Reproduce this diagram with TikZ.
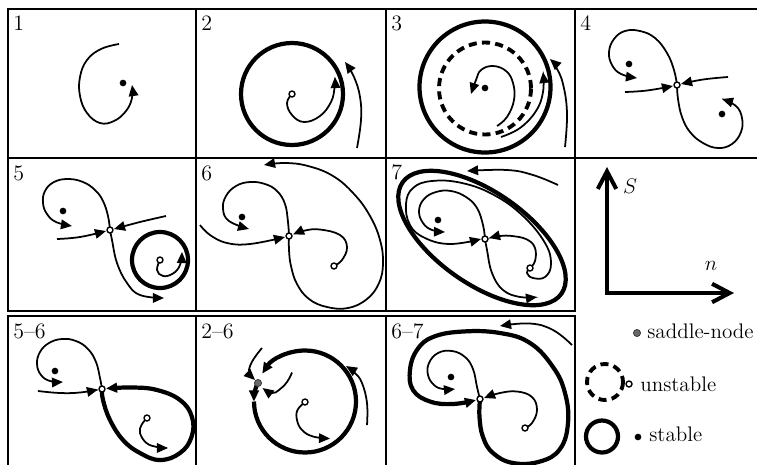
\documentclass[tikz,border=0pt]{standalone}
\usepackage{tikz}
\usetikzlibrary{arrows.meta}
\definecolor{snGray}{RGB}{105,105,105}

\begin{document}
\begin{tikzpicture}[
  x=0.02cm, y=-0.02cm,
  frame/.style={line width=1.3pt},
  arr/.style={-{Triangle[length=6.3pt,width=5.4pt]}},
  traj/.style={line width=1pt, arr},
  orbit/.style={line width=2.4pt},
  ghost/.style={line width=2.2pt, dash pattern=on 4.6pt off 3pt},
  stab/.style={circle, fill=black, inner sep=0pt, minimum size=3.8pt},
  unst/.style={circle, draw, fill=white, line width=0.8pt, inner sep=0pt, minimum size=3.4pt},
  snode/.style={circle, draw=snGray!60!black, fill=snGray, line width=0.5pt, inner sep=0pt, minimum size=4pt},
  lbl/.style={anchor=base west, inner sep=0pt, font=\fontsize{12.5}{14}\selectfont},
  legtxt/.style={anchor=base west, inner sep=0pt, font=\fontsize{12}{14}\selectfont},
  axis/.style={line width=2.3pt, {Straight Barb[length=10pt,width=10.5pt]}-{Straight Barb[length=10pt,width=10.5pt]}}
]
\clip (0,0) rectangle (757,464);
\foreach \xa/\xb in {8/196,196/386,386/575,575/764}
  \draw[frame] (\xa,9) rectangle (\xb,158);
\foreach \xa/\xb in {8/196,196/386,386/575} {
  \draw[frame] (\xa,158) rectangle (\xb,311);
  \draw[frame] (\xa,316) rectangle (\xb,466);
}
\foreach \xa/\ya/\txt/\nm in {8/30/1/l1,196/30/2/l2,386/30/3/l3,575/30/4/l4,
    8/180/5/l5,196/180/6/l6,386/179/7/l7,8/338/5--6/l56,196/338/2--6/l26,386/338/6--7/l67}
  \node[lbl] (\nm) at (\xa+5,\ya) {\txt};

\coordinate (f1) at (123,83);
\draw[traj] plot[smooth,tension=0.7] coordinates {(119,44) (101,49) (87,60) (80,77) (80,96) (87,113) (100,123) (114,121) (126,111) (132,98) (132,85)};
\node[stab] at (f1) {};

\coordinate (u2) at (292,94);
\draw[orbit] (u2) circle[radius=51];
\draw[traj] plot[smooth,tension=0.7] coordinates {(u2) (287,103) (292,115) (304,122) (320,116) (331,102) (334.5,88) (335,77)};
\draw[traj] plot[smooth,tension=0.7] coordinates {(357,148) (361,120) (360,97) (354,77) (345,62)};
\node[unst] at (u2) {};

\coordinate (f3) at (485,88);
\draw[orbit] (485,87) circle[radius=65.5];
\draw[ghost] (485,88.5) circle[radius=46];
\draw[traj] plot[smooth,tension=0.7] coordinates {(497,126) (507,117) (514,100) (513,83) (506,71) (493,66) (481,70) (476,80) (471,94)};
\draw[traj] plot[smooth,tension=0.7] coordinates {(501,137) (520,128) (536,111) (543,92) (543,72)};
\draw[traj] plot[smooth,tension=0.7] coordinates {(565,147) (567,113) (563,84) (556,67) (550,59)};
\node[stab] at (f3) {};

\coordinate (s4) at (677,85);
\coordinate (f4a) at (629,64);
\coordinate (f4b) at (722,114);
\draw[traj] plot[smooth,tension=0.7] coordinates {(s4) (674,70) (667,53) (655,38) (640,31) (625,31) (614,39) (609,52) (612,65) (621,74) (637,78)};
\draw[traj] plot[smooth,tension=0.7] coordinates {(s4) (678,99) (682,117) (690,132) (703,143) (718,148) (732,144) (741,132) (742,118) (736,106) (722,99)};
\draw[traj] plot[smooth,tension=0.7] coordinates {(625,92) (647,90.5) (673,86)};
\draw[traj] plot[smooth,tension=0.7] coordinates {(728,77) (703,79.5) (681,84)};
\node[stab] at (f4a) {};
\node[stab] at (f4b) {};
\node[unst] at (s4) {};

\coordinate (s5) at (110,230);
\coordinate (f5) at (63,211);
\coordinate (u5) at (160,260);
\draw[orbit] (u5) circle[radius=28];
\draw[traj] plot[smooth,tension=0.7] coordinates {(u5) (157,270) (163,276) (173,273.5) (180,265) (182,252)};
\draw[traj] plot[smooth,tension=0.7] coordinates {(s5) (108,216) (103,201) (95,190) (83,182) (68,179) (54,182) (45,191) (43,203) (47,214) (56,222) (72,226)};
\draw[traj] plot[smooth,tension=0.7] coordinates {(s5) (112,240) (117,263) (127,283) (140,295) (164,298)};
\draw[traj] plot[smooth,tension=0.7] coordinates {(57,239) (80,237) (106,231)};
\draw[traj] plot[smooth,tension=0.7] coordinates {(166,216) (140,222) (114,229)};
\node[stab] at (f5) {};
\node[unst] at (u5) {};
\node[unst] at (s5) {};

\coordinate (s6) at (289,236);
\coordinate (f6) at (242,217);
\coordinate (u6) at (334,266);
\draw[traj] plot[smooth,tension=0.7] coordinates {(s6) (288,222) (285,204) (277,191) (265,184) (250,182) (236,186) (226,196) (223,209) (229,221) (249,229)};
\draw[traj] plot[smooth,tension=0.7] coordinates {(s6) (289,250) (291,266) (297,284) (309,299) (327,307) (348,308) (367,299) (379,283) (383,263) (380,240) (370,216) (354,194) (333,176) (308,166) (285,163) (264,165)};
\draw[traj] plot[smooth,tension=0.7] coordinates {(200,225) (210,235) (227,243) (250,244) (285,237)};
\draw[traj] plot[smooth,tension=0.7] coordinates {(u6) (342,260) (347,247) (340,235) (320,229.5) (305,230.5) (293,234.5)};
\node[stab] at (f6) {};
\node[unst] at (u6) {};
\node[unst] at (s6) {};

\coordinate (s7) at (485,239);
\coordinate (f7) at (438,220);
\coordinate (u7) at (530,268);
\draw[orbit] (482,238) circle[x radius=97, y radius=46, rotate=-35];
\draw[traj] plot[smooth,tension=0.7] coordinates {(s7) (483,225) (477,208) (466,197) (451,191) (436,192) (424,199) (419,211) (423,223) (432,230) (445,232)};
\draw[traj] plot[smooth,tension=0.7] coordinates {(u7) (527,273) (533,278) (545,277) (551,264) (545,243) (523,216) (494,195) (462,183) (432,181) (413,188) (406,204) (410,225) (425,238) (450,244) (481,239)};
\draw[traj] plot[smooth,tension=0.7] coordinates {(u7) (535,261) (535,248) (527,239.5) (512,236) (500,236) (489,238)};
\draw[traj] plot[smooth,tension=0.7] coordinates {(s7) (487,250) (492,273) (503,290) (520,297) (537,297)};
\draw[traj] plot[smooth,tension=0.7] coordinates {(558,185) (533,175) (507,170) (467,171)};
\node[stab] at (f7) {};
\node[unst] at (u7) {};
\node[unst] at (s7) {};

\coordinate (o) at (607,293);
\coordinate (ytop) at (607,167);
\coordinate (xend) at (734,293);
\draw[axis] (ytop) -- (o) -- (xend);
\node[font=\fontsize{12.5}{14}\selectfont] (lS) at (630,186) {$S$};
\node[font=\fontsize{12.5}{14}\selectfont] (ln) at (711,266) {$n$};

\coordinate (s56) at (102,389);
\coordinate (f56) at (55,371);
\coordinate (u56) at (147,418);
\draw[traj] plot[smooth,tension=0.7] coordinates {(s56) (100,378) (96,362) (88,349) (76,341) (62,339) (49,343) (40,352) (37,364) (41,375) (50,381) (63,382)};
\draw[traj] plot[smooth,tension=0.7] coordinates {(38,391) (60,393) (80,392.5) (98,389.5)};
\draw[orbit, arr] plot[smooth,tension=0.7] coordinates {(s56) (103,400) (110,420) (123,440) (140,453) (160,460) (180,453) (191.5,437) (192,417) (180,400) (157,390) (133,387.5) (106,388.5)};
\draw[traj] plot[smooth,tension=0.7] coordinates {(u56) (141.5,425) (140,433) (146.5,443) (157,447) (168,448)};
\node[stab] at (f56) {};
\node[unst] at (u56) {};
\node[unst] at (s56) {};

\coordinate (c26) at (305,401.5);
\coordinate (sn) at (258,383);
\coordinate (u26) at (305,402);
\draw[orbit, arr] (c26) ++(-180:51) arc[start angle=-180, end angle=-507, radius=51];
\draw[orbit, arr] (c26) ++(-160:51) arc[start angle=-160, end angle=-180, radius=51];
\draw[traj] plot[smooth,tension=0.7] coordinates {(262,348) (255,357) (250,366) (249.5,373) (255,380)};
\draw[traj] plot[smooth,tension=0.7] coordinates {(292,372.5) (287,382) (279,390) (272,393) (262.5,388)};
\draw[traj] plot[smooth,tension=0.7] coordinates {(367,425) (367,403) (362,383) (355,373) (346,366)};
\draw[traj] plot[smooth,tension=0.7] coordinates {(u26) (297.5,410) (297,420) (302,430) (313,436.5) (330,438.5)};
\node[unst] at (u26) {};
\node[snode] at (sn) {};

\coordinate (s67) at (480,399);
\coordinate (f67) at (451,377);
\coordinate (u67) at (525,428);
\draw[orbit, arr] plot[smooth,tension=0.7] coordinates {(s67) (479.5,417) (483,437) (493,453) (513,463) (540,461.5) (560,449) (568,423) (565,393) (553,367) (530,343) (500,333) (463,331.5) (433,337) (417,350) (410,370) (413,390) (430,401.5) (453,404) (476,400)};
\draw[traj] plot[smooth,tension=0.7] coordinates {(s67) (477,387) (473,369) (465,357) (452,351) (438,353) (429,363) (428,375) (434,385) (443,389) (455,389)};
\draw[traj] plot[smooth,tension=0.7] coordinates {(u67) (532,423) (537,410) (532,397) (517,391.5) (500,393) (484,398)};
\draw[traj] plot[smooth,tension=0.7] coordinates {(572,345) (553,330) (530,323.5) (500,326)};
\node[stab] at (f67) {};
\node[unst] at (u67) {};
\node[unst] at (s67) {};

\node[snode] (lsn) at (637,333) {};
\node[legtxt] (tsn) at (647,338.5) {saddle-node};
\draw[ghost] (605,382) circle[radius=18];
\node[unst] (lun) at (629,384) {};
\node[legtxt] (tun) at (640,391.5) {unstable};
\draw[orbit] (602,436.5) circle[radius=16];
\node[stab] (lst) at (638,437) {};
\node[legtxt] (tst) at (649,441.5) {stable};
\end{tikzpicture}
\end{document}
